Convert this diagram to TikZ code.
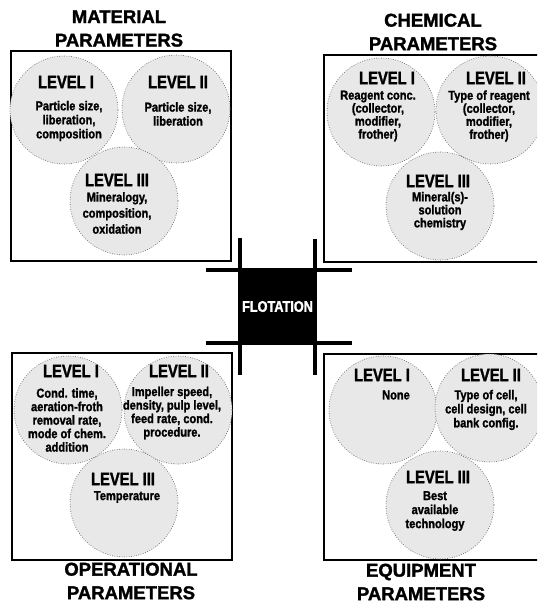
\documentclass[tikz,border=0pt]{standalone}
\usepackage{fontspec}
\newfontfamily\tfont[FakeBold=1.6]{Liberation Sans Bold}
\newfontfamily\hfont[FakeStretch=0.82,FakeBold=1.6]{Liberation Sans Bold}
\newfontfamily\bfont[FakeStretch=0.85,FakeBold=1.4]{Liberation Sans Bold}
\begin{document}
\begin{tikzpicture}[x=1pt,y=-1pt,
  panel/.style={draw=black, line width=1.1pt},
  bubble/.style={circle, minimum size=108pt, inner sep=0pt, fill=black!9, draw=black!55, line width=0.7pt, dash pattern=on 0.8pt off 1.6pt},
  ttl/.style={font=\tfont\fontsize{18.5}{23.5}\selectfont, align=center, inner sep=0pt},
  lvl/.style={font=\hfont\fontsize{18}{18}\selectfont, inner sep=0pt},
  body/.style={font=\bfont\fontsize{13}{13.5}\selectfont, align=center, inner sep=0pt},
  bar/.style={line width=4.5pt},
]
\useasboundingbox (0,0) rectangle (537,609);
\begin{scope}
\clip (0,0) rectangle (537,609);
% panels
\draw[panel] (11,51) rectangle (231,261);
\draw[panel] (324,55) rectangle (545,262);
\draw[panel] (12,353) rectangle (232,560);
\draw[panel] (324,354) rectangle (545,560);

% material circles
\node[bubble] (m1) at (64,110) {};
\node[bubble] (m2) at (176,109) {};
\node[bubble] (m3) at (124,201) {};
% chemical circles
\node[bubble] (c1) at (381,112) {};
\node[bubble] (c2) at (490,110) {};
\node[bubble] (c3) at (440,206) {};
% operational circles
\node[bubble] (o1) at (68,410) {};
\node[bubble] (o2) at (178,410) {};
\node[bubble] (o3) at (124,503) {};
% equipment circles
\node[bubble] (e1) at (383,410) {};
\node[bubble] (e2) at (489,408) {};
\node[bubble] (e3) at (440,505) {};

% titles
\node[ttl] (tm) at (119,28.5) {MATERIAL\\PARAMETERS};
\node[ttl] (tc) at (433,32) {CHEMICAL\\PARAMETERS};
\node[ttl] (to) at (131,581) {OPERATIONAL\\PARAMETERS};
\node[ttl] (te) at (421,582) {EQUIPMENT\\PARAMETERS};

% material texts
\node[lvl] (m1h) at (66,82) {LEVEL I};
\node[body, font=\bfont\fontsize{13}{14}\selectfont] (m1b) at (69,121) {Particle size,\\liberation,\\composition};
\node[lvl] (m2h) at (178,82) {LEVEL II};
\node[body, font=\bfont\fontsize{13}{14}\selectfont] (m2b) at (178,114) {Particle size,\\liberation};
\node[lvl] (m3h) at (117,180) {LEVEL III};
\node[body, font=\bfont\fontsize{13}{16}\selectfont] (m3b) at (117,213) {Mineralogy,\\composition,\\oxidation};

% chemical texts
\node[lvl] (c1h) at (387,78) {LEVEL I};
\node[body, font=\bfont\fontsize{13}{13}\selectfont] (c1b) at (378,116) {Reagent conc.\\(collector,\\modifier,\\frother)};
\node[lvl] (c2h) at (496,78) {LEVEL II};
\node[body, font=\bfont\fontsize{13}{13}\selectfont] (c2b) at (489,116) {Type of reagent\\(collector,\\modifier,\\frother)};
\node[lvl] (c3h) at (438,181) {LEVEL III};
\node[body, font=\bfont\fontsize{13}{13}\selectfont] (c3b) at (440,211) {Mineral(s)-\\solution\\chemistry};

% operational texts
\node[lvl] (o1h) at (71,371) {LEVEL I};
\node[body] (o1b) at (67,420) {Cond. time,\\aeration-froth\\removal rate,\\mode of chem.\\addition};
\node[lvl] (o2h) at (179,371) {LEVEL II};
\node[body] (o2b) at (172,413) {Impeller speed,\\density, pulp level,\\feed rate, cond.\\procedure.};
\node[lvl] (o3h) at (123,479) {LEVEL III};
\node[body] (o3b) at (127,497) {Temperature};

% equipment texts
\node[lvl] (e1h) at (382,375) {LEVEL I};
\node[body] (e1b) at (396,395) {None};
\node[lvl] (e2h) at (491,375) {LEVEL II};
\node[body, font=\bfont\fontsize{13}{14}\selectfont] (e2b) at (486,410) {Type of cell,\\cell design, cell\\bank config.};
\node[lvl] (e3h) at (438,477) {LEVEL III};
\node[body, font=\bfont\fontsize{13}{14}\selectfont] (e3b) at (435,511) {Best\\available\\technology};

% center
\node[fill=black, minimum width=75pt, minimum height=73pt, inner sep=0pt,
      text=white, font=\hfont\fontsize{15.5}{15.5}\selectfont] (flot) at (277.5,306.5) {FLOTATION};
\coordinate (h1a) at ([xshift=-34pt]flot.north west);
\coordinate (h1b) at ([xshift=37pt]flot.north east);
\coordinate (h2a) at ([xshift=-34pt]flot.south west);
\coordinate (h2b) at ([xshift=37pt]flot.south east);
\coordinate (v1a) at ([yshift=32pt]flot.north west);
\coordinate (v1b) at ([yshift=-32pt]flot.south west);
\coordinate (v2a) at ([yshift=31pt]flot.north east);
\coordinate (v2b) at ([yshift=-32pt]flot.south east);
\draw[bar] (h1a) -- (h1b);
\draw[bar] (h2a) -- (h2b);
\draw[bar] (v1a) -- (v1b);
\draw[bar] (v2a) -- (v2b);
\end{scope}
\end{tikzpicture}
\end{document}
